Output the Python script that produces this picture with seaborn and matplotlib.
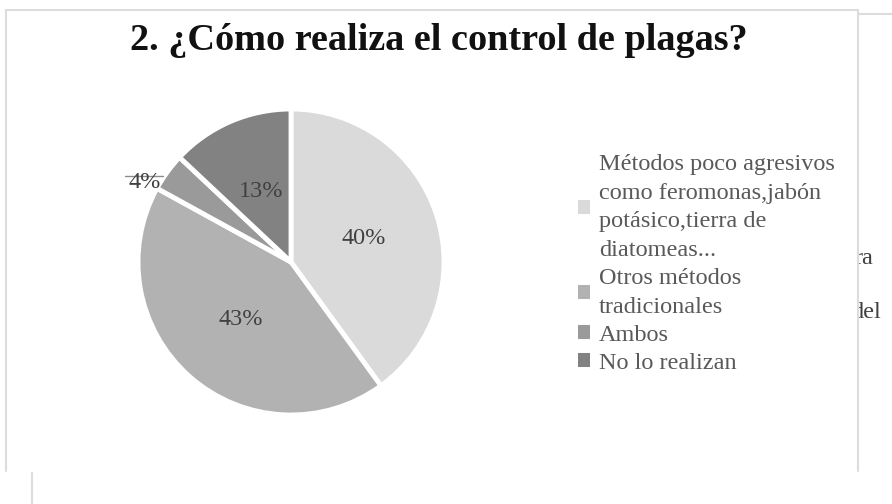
import matplotlib
matplotlib.use("Agg")
import matplotlib.pyplot as plt
from matplotlib.lines import Line2D
import numpy as np
import seaborn as sns

# Survey answers: how pest control is carried out
categories = [
    "Métodos poco agresivos\ncomo feromonas,jabón\npotásico,tierra de\ndiatomeas...",
    "Otros métodos\ntradicionales",
    "Ambos",
    "No lo realizan",
]
shares = [40, 43, 4, 13]
title = "2. ¿Cómo realiza el control de plagas?"

sns.set_theme(style="white")
plt.rcParams["font.family"] = ["Liberation Serif", "DejaVu Serif"]

colors = ["#dadada", "#b2b2b2", "#9a9a9a", "#828282"]
text_grey = "#404040"

W, H = 892, 504
fig = plt.figure(figsize=(W / 100, H / 100), dpi=100)
fig.patch.set_facecolor("white")

# Pie axes: centre (291, 262) px, radius 153 px
cx, cy, R = 291, 262, 153
half = 176
ax = fig.add_axes([(cx - half) / W, (H - cy - half) / H, 2 * half / W, 2 * half / H])

wedges, _, autotexts = ax.pie(
    shares,
    colors=colors,
    startangle=90,
    counterclock=False,
    autopct="%.0f%%",
    pctdistance=0.5,
    radius=1.0,
    wedgeprops=dict(edgecolor="white", linewidth=3.5),
    textprops=dict(color=text_grey, fontsize=17.5),
)
lim = half / R
ax.set_xlim(-lim, lim)
ax.set_ylim(-lim, lim)
ax.set_aspect("equal")
ax.axis("off")

# Small slice: label moved outside with a short leader line
w = wedges[2]
mid = np.deg2rad((w.theta1 + w.theta2) / 2)
lx, ly = 1.17 * np.cos(mid) - 0.01, 1.17 * np.sin(mid) - 0.165
autotexts[2].set_position((lx, ly))
autotexts[2].set_ha("center")
ax.plot([lx - 0.13, np.cos(mid) - 0.03], [ly + 0.04, ly + 0.04],
        color="#8c8c8c", lw=1.0, clip_on=False)

fig.text(439 / W, 1 - 41 / H, title, ha="center", va="center",
         fontsize=27.5, fontweight="bold", color="#111111")

leg = ax.legend(
    wedges, categories,
    loc="center left",
    bbox_to_anchor=(566 / W, 1 - 264 / H),
    bbox_transform=fig.transFigure,
    frameon=False,
    borderpad=0,
    handlelength=0.5,
    handleheight=0.5,
    handletextpad=0.35,
    labelspacing=0.29,
    prop=dict(family="Liberation Serif", size=17.5),
)
for t in leg.get_texts():
    t.set_color("#595959")
    t.set_linespacing(1.48)
for h in leg.legend_handles:
    h.set_edgecolor("none")

# Surrounding page frame
frame = "#dcdcdc"
for xs, ys in [
    ([6, 858], [9.5, 9.5]),
    ([6, 6], [9.5, 471]),
    ([858, 858], [9.5, 471]),
    ([858, 892], [13.5, 13.5]),
    ([32, 32], [473, 504]),
]:
    fig.add_artist(Line2D([x / W for x in xs], [1 - y / H for y in ys],
                          color=frame, lw=1.5, transform=fig.transFigure))

# Neighbouring page text, cut off at the frame edge
side = fig.add_axes([859 / W, 0, (W - 859) / W, 1])
side.set_xlim(859, W)
side.set_ylim(H, 0)
side.axis("off")
side.patch.set_alpha(0)
side.text(855, 258, "ra", fontsize=17.5, color=text_grey, va="center", clip_on=True)
side.text(851, 313, "del", fontsize=17.5, color=text_grey, va="center", clip_on=True)

fig.savefig("out.png", dpi=100, facecolor="white")
